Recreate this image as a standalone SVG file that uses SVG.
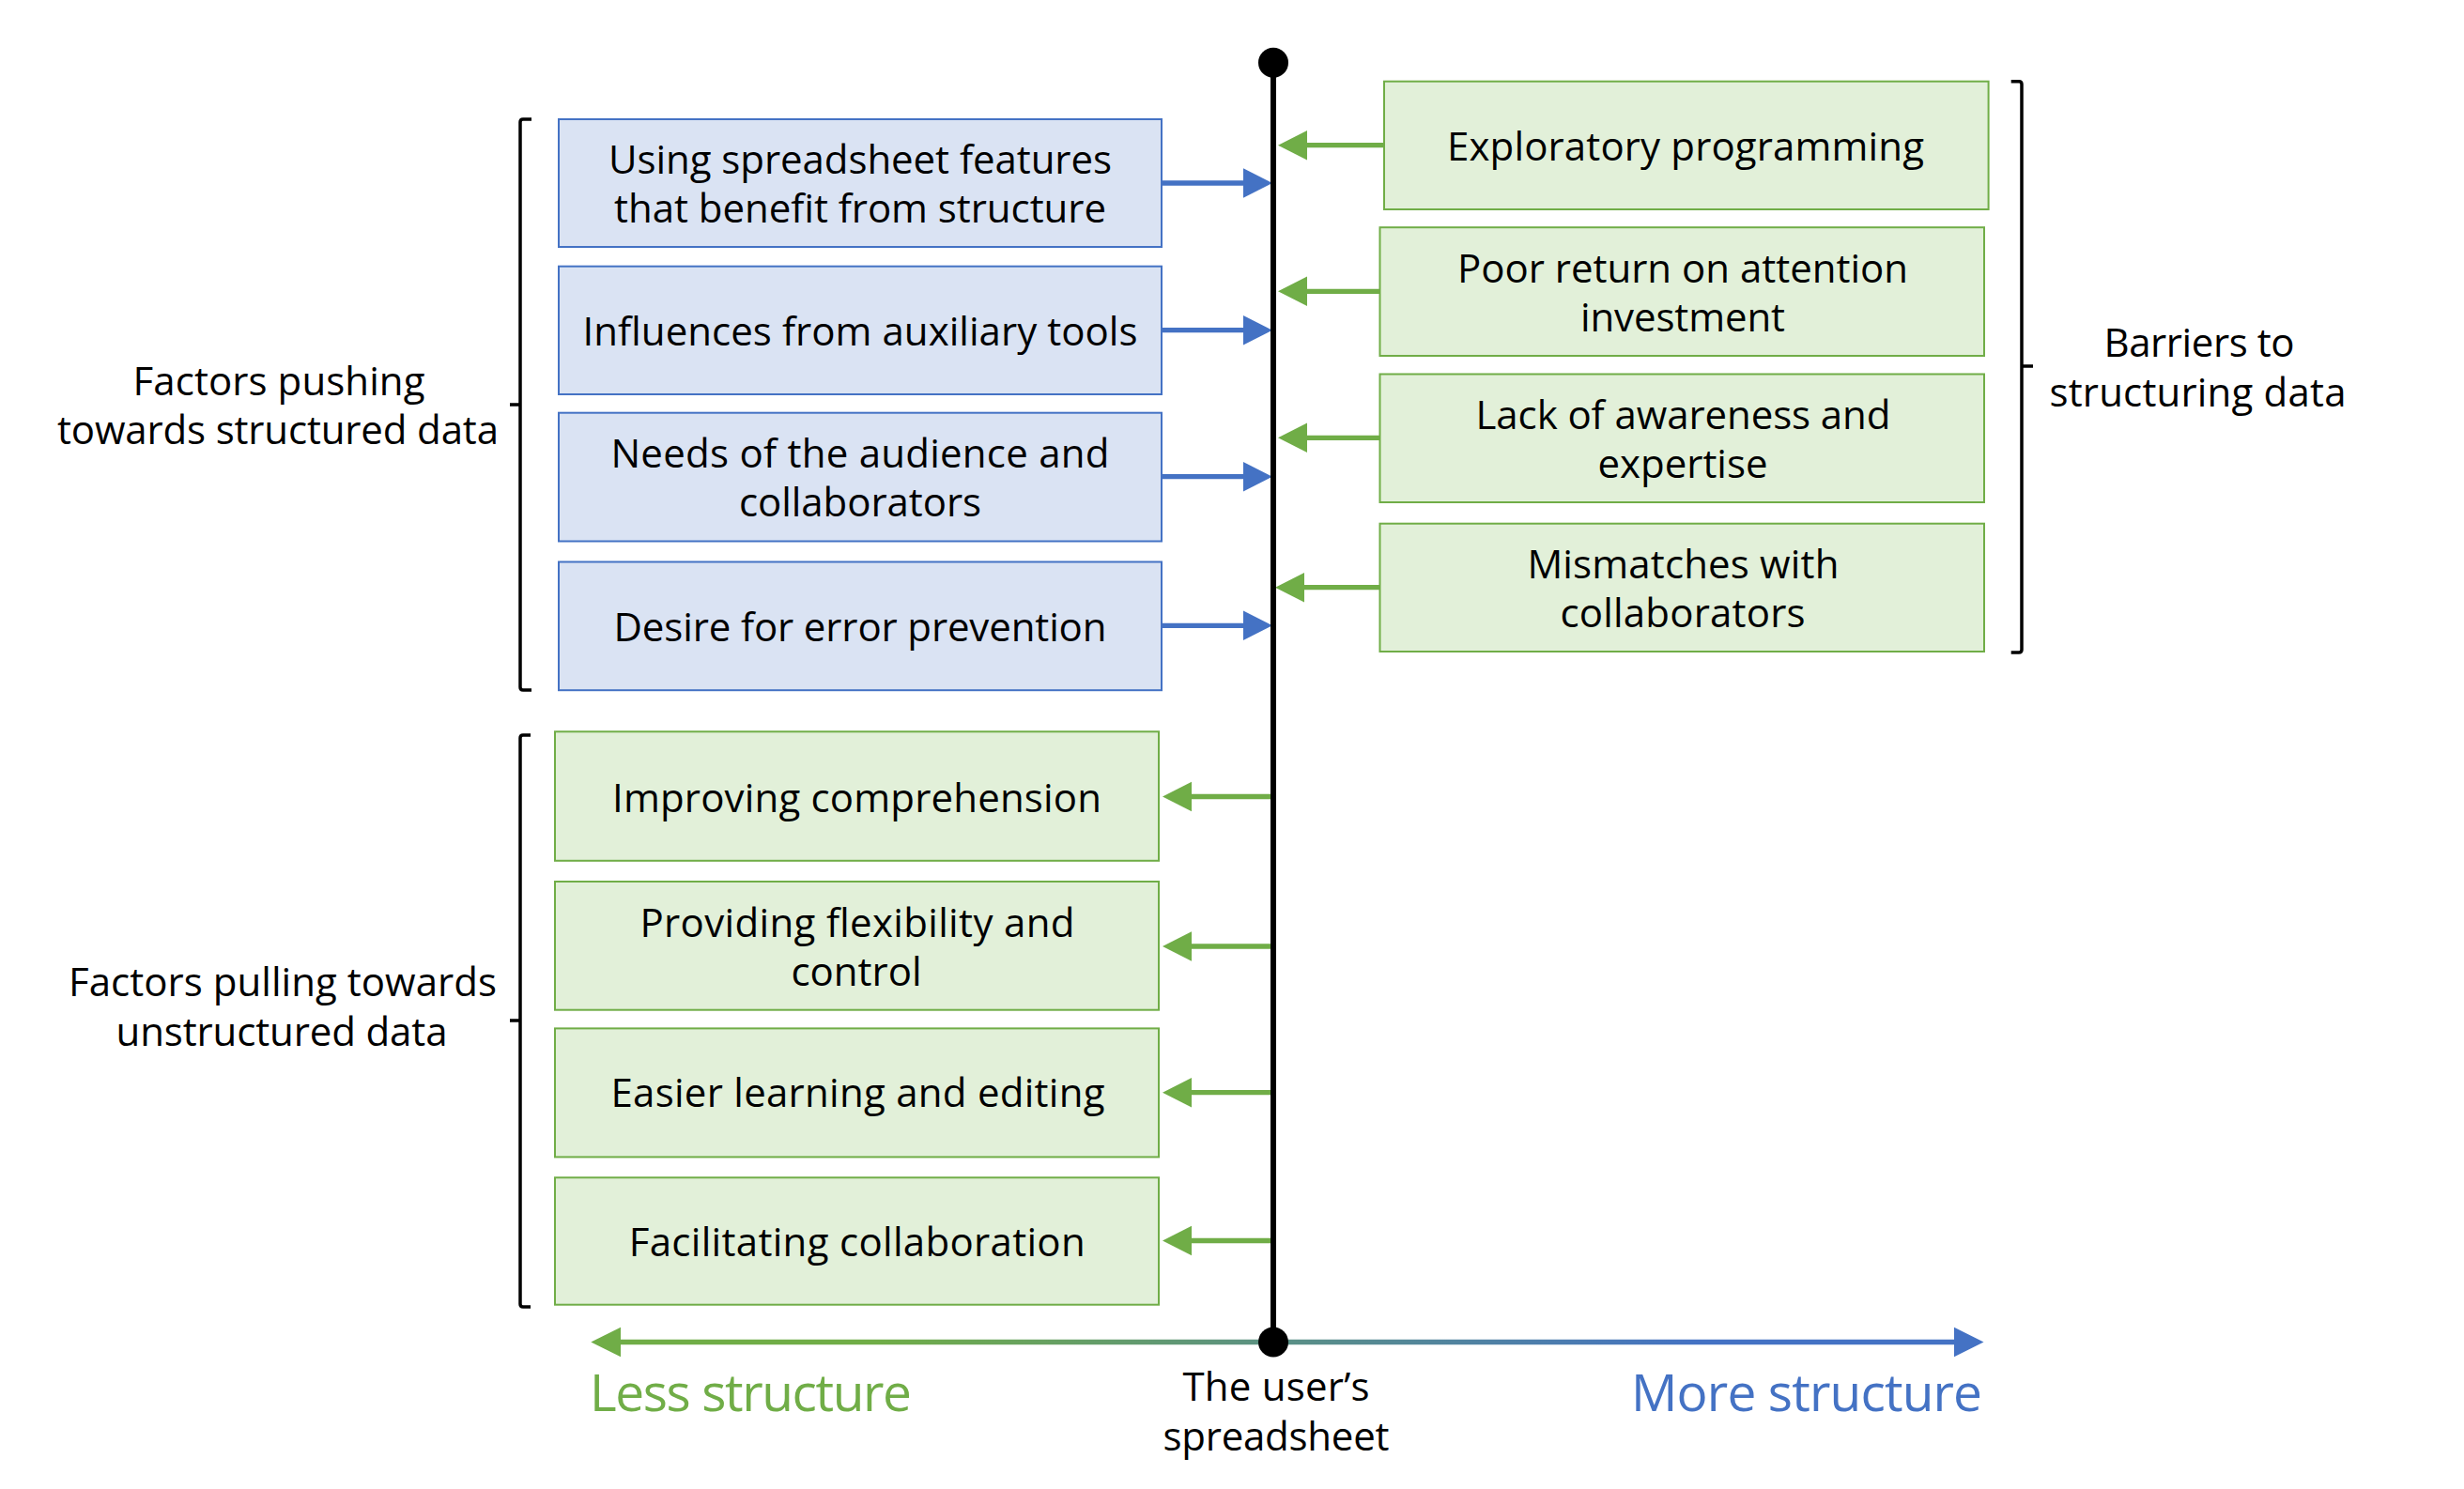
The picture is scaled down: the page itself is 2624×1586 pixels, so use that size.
<svg xmlns="http://www.w3.org/2000/svg" width="2624" height="1586" viewBox="0 0 2624 1586">
<style>
text{font-family:"Open Sans","Noto Sans","Liberation Sans",sans-serif;font-size:42px;fill:#000;text-anchor:middle}
.bb{fill:#DAE3F3;stroke:#4472C4;stroke-width:2}
.gb{fill:#E2F0D9;stroke:#70AD47;stroke-width:2}
.ca{stroke:#4472C4;stroke-width:5.3;fill:none}
.cg{stroke:#70AD47;stroke-width:5.3;fill:none}
.br{fill:none;stroke:#000;stroke-width:3.5;stroke-linejoin:round}
.big{font-size:55px;text-anchor:start}
</style>
<defs>
<marker id="mb" markerUnits="userSpaceOnUse" markerWidth="34" markerHeight="34" viewBox="0 -17 34 34" refX="1" refY="0" orient="auto"><path d="M0,-15.7 L31,0 L0,15.7 z" fill="#4472C4"/></marker>
<marker id="mg" markerUnits="userSpaceOnUse" markerWidth="34" markerHeight="34" viewBox="0 -17 34 34" refX="1" refY="0" orient="auto"><path d="M0,-15.7 L31,0 L0,15.7 z" fill="#70AD47"/></marker>
<linearGradient id="ax" gradientUnits="userSpaceOnUse" x1="640" y1="0" x2="2100" y2="0"><stop offset="0" stop-color="#70AD47"/><stop offset="0.2" stop-color="#70AD47"/><stop offset="0.8" stop-color="#4472C4"/><stop offset="1" stop-color="#4472C4"/></linearGradient>
</defs>
<g id="connectors">
<line class="ca" x1="1237" y1="195" x2="1325" y2="195" marker-end="url(#mb)"/>
<line class="ca" x1="1237" y1="351.7" x2="1325" y2="351.7" marker-end="url(#mb)"/>
<line class="ca" x1="1237" y1="507.7" x2="1325" y2="507.7" marker-end="url(#mb)"/>
<line class="ca" x1="1237" y1="666.3" x2="1325" y2="666.3" marker-end="url(#mb)"/>
<line class="cg" x1="1474" y1="154.7" x2="1391" y2="154.7" marker-end="url(#mg)"/>
<line class="cg" x1="1469.5" y1="310.3" x2="1391" y2="310.3" marker-end="url(#mg)"/>
<line class="cg" x1="1469.5" y1="466.3" x2="1391" y2="466.3" marker-end="url(#mg)"/>
<line class="cg" x1="1469.5" y1="625.7" x2="1388" y2="625.7" marker-end="url(#mg)"/>
<line class="cg" x1="1354" y1="848.5" x2="1268" y2="848.5" marker-end="url(#mg)"/>
<line class="cg" x1="1354" y1="1008" x2="1268" y2="1008" marker-end="url(#mg)"/>
<line class="cg" x1="1354" y1="1163.7" x2="1268" y2="1163.7" marker-end="url(#mg)"/>
<line class="cg" x1="1354" y1="1321.5" x2="1268" y2="1321.5" marker-end="url(#mg)"/>
</g>
<g id="axis">
<line x1="1356" y1="66.7" x2="1356" y2="1429.5" stroke="#000" stroke-width="6"/>
<line x1="658" y1="1429.5" x2="2084" y2="1429.5" stroke="url(#ax)" stroke-width="5.3"/>
<polygon points="629.3,1429.5 661,1413.8 661,1445.2" fill="#70AD47"/>
<polygon points="2112.5,1429.5 2081,1413.8 2081,1445.2" fill="#4472C4"/>
<circle cx="1356" cy="66.7" r="16" fill="#000"/>
<circle cx="1356" cy="1429.5" r="16" fill="#000"/>
</g>
<g id="n-features"><rect class="bb" x="595" y="127" width="642" height="136"/><text><tspan x="916" y="185" textLength="536">Using spreadsheet features</tspan><tspan x="916" y="237" textLength="524">that benefit from structure</tspan></text></g>
<g id="n-auxiliary"><rect class="bb" x="595" y="283.7" width="642" height="136.3"/><text x="916" y="368" textLength="591">Influences from auxiliary tools</text></g>
<g id="n-audience"><rect class="bb" x="595" y="439.7" width="642" height="136.8"/><text><tspan x="916" y="498" textLength="531">Needs of the audience and</tspan><tspan x="916" y="550" textLength="258">collaborators</tspan></text></g>
<g id="n-error"><rect class="bb" x="595" y="598.5" width="642" height="136.7"/><text x="916" y="683" textLength="525">Desire for error prevention</text></g>
<g id="n-exploratory"><rect class="gb" x="1474" y="86.7" width="643.6" height="136.3"/><text x="1795" y="171" textLength="508">Exploratory programming</text></g>
<g id="n-return"><rect class="gb" x="1469.5" y="242.2" width="643.5" height="136.8"/><text><tspan x="1792" y="301" textLength="480">Poor return on attention</tspan><tspan x="1792" y="353" textLength="218">investment</tspan></text></g>
<g id="n-awareness"><rect class="gb" x="1469.5" y="398.5" width="643.5" height="136.5"/><text><tspan x="1792.5" y="457" textLength="442">Lack of awareness and</tspan><tspan x="1792" y="509" textLength="181">expertise</tspan></text></g>
<g id="n-mismatch"><rect class="gb" x="1469.5" y="557.7" width="643.5" height="136.3"/><text><tspan x="1792.4" y="616" textLength="332">Mismatches with</tspan><tspan x="1792" y="668" textLength="261">collaborators</tspan></text></g>
<g id="n-comprehension"><rect class="gb" x="591" y="779.3" width="643" height="137.5"/><text x="912.5" y="865" textLength="521">Improving comprehension</text></g>
<g id="n-flexibility"><rect class="gb" x="591" y="939" width="643" height="136.7"/><text><tspan x="913" y="998" textLength="463">Providing flexibility and</tspan><tspan x="912" y="1050" textLength="139">control</tspan></text></g>
<g id="n-learning"><rect class="gb" x="591" y="1095.4" width="643" height="137"/><text x="913.5" y="1179" textLength="526">Easier learning and editing</text></g>
<g id="n-collaboration"><rect class="gb" x="591" y="1254.3" width="643" height="135.4"/><text x="912.7" y="1338" textLength="486">Facilitating collaboration</text></g>
<g id="brackets">
<path class="br" d="M566,127 L557,127 Q554,127 554,130 L554,732 Q554,735 557,735 L566,735 M554,431 L543,431"/>
<path class="br" d="M565,783 L557,783 Q554,783 554,786 L554,1389 Q554,1392 557,1392 L565,1392 M554,1087 L543,1087"/>
<path class="br" d="M2141.7,86.7 L2150,86.7 Q2153,86.7 2153,89.7 L2153,692 Q2153,695 2150,695 L2141.7,695 M2153,390 L2165,390"/>
</g>
<g id="labels">
<text><tspan x="297" y="421" textLength="311">Factors pushing</tspan><tspan x="296" y="473" textLength="470">towards structured data</tspan></text>
<text><tspan x="301" y="1061" textLength="456">Factors pulling towards</tspan><tspan x="300" y="1114" textLength="353">unstructured data</tspan></text>
<text><tspan x="2342" y="380" textLength="203">Barriers to</tspan><tspan x="2340.5" y="432.6" textLength="316">structuring data</tspan></text>
<text><tspan x="1359" y="1492.3" textLength="199">The user’s</tspan><tspan x="1359" y="1544.5" textLength="241">spreadsheet</tspan></text>
<text class="big" x="628" y="1503" textLength="343" style="fill:#70AD47">Less structure</text>
<text class="big" x="1737" y="1503" textLength="374" style="fill:#4472C4">More structure</text>
</g>
</svg>
